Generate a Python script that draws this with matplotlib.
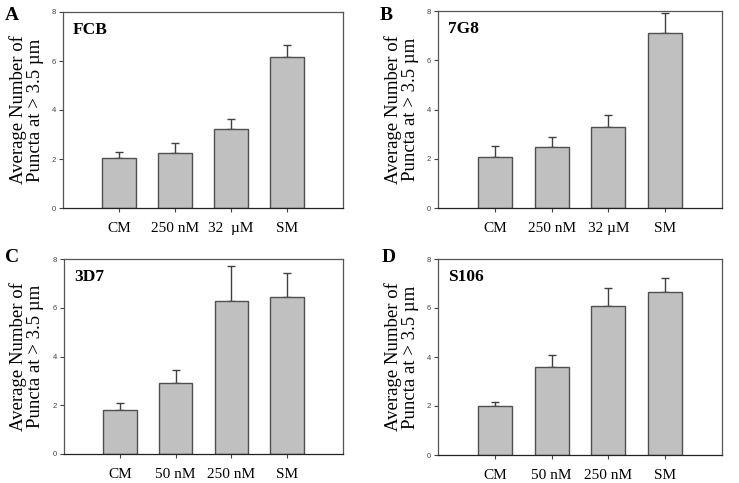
import matplotlib
matplotlib.use("Agg")
import matplotlib.pyplot as plt
import numpy as np

# ---- data ----
cats_ab = ["CM", "250 nM", "32  \u00b5M", "SM"]
cats_b = ["CM", "250 nM", "32 \u00b5M", "SM"]
cats_cd = ["CM", "50 nM", "250 nM", "SM"]

fcb_mean = [2.04, 2.24, 3.24, 6.15]
fcb_err = [0.25, 0.43, 0.40, 0.52]

g78_mean = [2.07, 2.47, 3.28, 7.09]
g78_err = [0.43, 0.43, 0.48, 0.81]

d37_mean = [1.82, 2.93, 6.29, 6.46]
d37_err = [0.26, 0.52, 1.41, 0.95]

s106_mean = [2.00, 3.60, 6.10, 6.64]
s106_err = [0.16, 0.50, 0.70, 0.60]

panels = [
    ("A", "FCB", cats_ab, fcb_mean, fcb_err, [63, 12, 343, 208], (27, 402)),
    ("B", "7G8", cats_b, g78_mean, g78_err, [438, 11, 722, 208], (402, 402)),
    ("C", "3D7", cats_cd, d37_mean, d37_err, [64, 259, 343, 454], (27, 402)),
    ("D", "S106", cats_cd, s106_mean, s106_err, [438, 259, 722, 455], (402, 402)),
]

W, H = 739, 483
fig = plt.figure(figsize=(W / 100, H / 100), dpi=100)
serif = "Liberation Serif"
sans = "Liberation Sans"

letter_pos = {"A": (5, 20), "B": (380, 20), "C": (5, 262), "D": (382, 262)}

for letter, name, cats, means, errs, box, lab in panels:
    x0, y0, x1, y1 = box
    ax = fig.add_axes([x0 / W, 1 - y1 / H, (x1 - x0) / W, (y1 - y0) / H])
    xs = np.arange(1, len(cats) + 1)
    ax.bar(xs, means, width=0.6, color="#c0c0c0", edgecolor="#505050",
           linewidth=1.0, zorder=2)
    ax.errorbar(xs, means, yerr=[np.zeros(len(errs)), errs], fmt="none",
                ecolor="#404040", elinewidth=1.0, capsize=3, capthick=1.0, zorder=1)
    ax.set_xlim(0, 5)
    ax.set_ylim(0, 8)
    ax.set_yticks([0, 2, 4, 6, 8])
    ax.set_xticks(xs)
    ax.set_xticklabels(cats, fontfamily=serif, fontsize=11)
    for lbl in ax.get_yticklabels():
        lbl.set_fontfamily(sans)
        lbl.set_fontsize(5.5)
        lbl.set_color("#333333")
    ax.tick_params(axis="y", direction="out", length=3, width=0.8, pad=2, colors="#444444")
    ax.tick_params(axis="x", direction="out", length=3, width=0.8, pad=7, colors="#444444",
                   labelcolor="black")
    for s in ax.spines.values():
        s.set_color("#555555")
        s.set_linewidth(0.9)
    ax.spines["bottom"].set_color("#222222")
    ax.text(10 / (x1 - x0), 1 - 18 / (y1 - y0), name, transform=ax.transAxes,
            fontfamily=serif, fontweight="bold", fontsize=12.5, va="center", ha="left")
    cx = lab[0]
    fig.text(cx / W, 1 - ((y0 + y1) / 2) / H, "Average Number of\nPuncta at > 3.5 \u00b5m",
             rotation=90, ha="center", va="center", fontfamily=serif, fontsize=13.5,
             linespacing=1.0)
    lx, ly = letter_pos[letter]
    fig.text(lx / W, 1 - ly / H, letter, fontfamily=serif, fontweight="bold",
             fontsize=14, ha="left", va="baseline")

fig.savefig("out.png", dpi=100)
